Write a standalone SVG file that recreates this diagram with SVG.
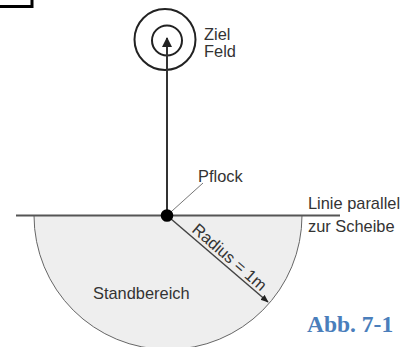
<svg xmlns="http://www.w3.org/2000/svg" width="405" height="347" viewBox="0 0 405 347">
<defs>
<style>
.lbl{font-family:"Liberation Sans",Arial,sans-serif;font-size:16.4px;fill:#333}
.abb{font-family:"Liberation Serif","Times New Roman",serif;font-size:23.5px;font-weight:bold;fill:#4a7ebb}
</style>
<marker id="ah" viewBox="0 0 10 10" refX="9" refY="5" markerWidth="10" markerHeight="10" markerUnits="userSpaceOnUse" orient="auto">
<path d="M0,0 L10,5 L0,10 Z" fill="#222"/>
</marker>
<marker id="ah2" viewBox="0 0 10 10" refX="9" refY="5" markerWidth="8" markerHeight="8" markerUnits="userSpaceOnUse" orient="auto">
<path d="M0,1 L10,5 L0,9 Z" fill="#222"/>
</marker>
</defs>
<rect width="405" height="347" fill="#fff"/>
<path d="M0,6.5 H32 V0" fill="none" stroke="#000" stroke-width="3"/>
<g id="standbereich">
<path d="M34,215.5 A134,134 0 0 0 302,215.5 Z" fill="#eeeeee" stroke="#666" stroke-width="1"/>
<text class="lbl" x="93" y="299">Standbereich</text>
</g>
<g id="linie">
<line x1="16" y1="215.5" x2="340" y2="215.5" stroke="#555" stroke-width="2"/>
<text class="lbl" x="308" y="208.5">Linie parallel</text>
<text class="lbl" x="308" y="232">zur Scheibe</text>
</g>
<g id="ziel">
<circle cx="165" cy="39.5" r="30.5" fill="none" stroke="#222" stroke-width="2"/>
<circle cx="167" cy="40.5" r="15" fill="none" stroke="#222" stroke-width="2"/>
<text class="lbl" x="204" y="39.5">Ziel</text>
<text class="lbl" x="204" y="57">Feld</text>
</g>
<g id="connectors">
<line x1="167" y1="215" x2="167" y2="38" stroke="#333" stroke-width="2" marker-end="url(#ah)"/>
<line x1="167" y1="215.5" x2="203" y2="183" stroke="#777" stroke-width="1"/>
<line x1="167" y1="215.5" x2="268" y2="302" stroke="#444" stroke-width="1.5" marker-end="url(#ah2)"/>
</g>
<g id="radius">
<text class="lbl" transform="translate(191,231) rotate(41)">Radius = 1m</text>
</g>
<g id="pflock">
<circle cx="167" cy="215.5" r="6.3" fill="#000"/>
<text class="lbl" x="198" y="182">Pflock</text>
</g>
<g id="abb">
<text class="abb" x="307" y="332">Abb. 7-1</text>
</g>
</svg>
